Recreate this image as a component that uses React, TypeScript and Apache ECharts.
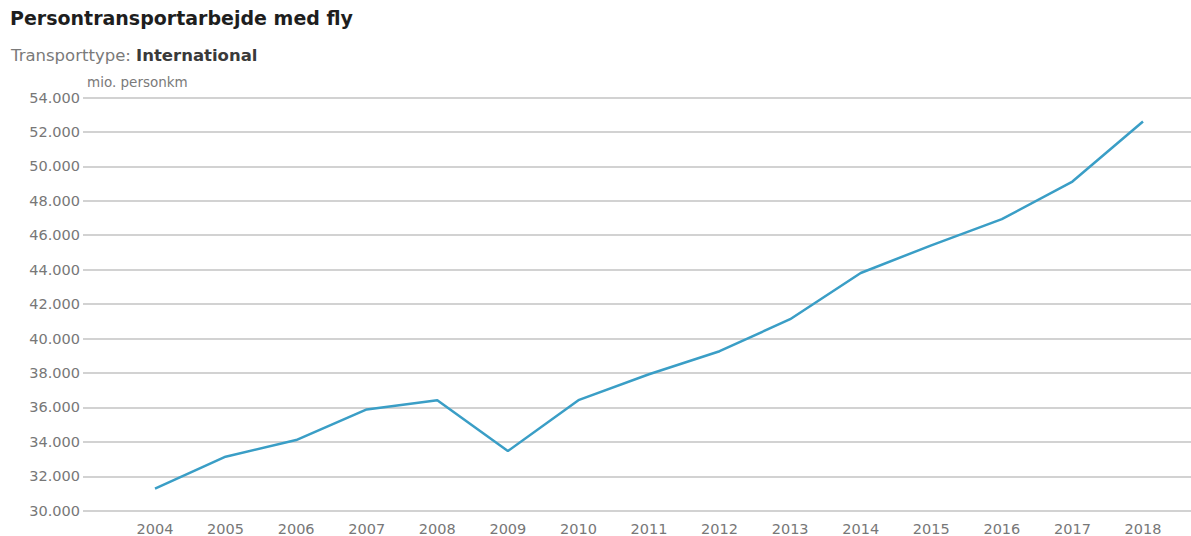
import React, { useEffect, useRef } from "react";
import * as echarts from "echarts";

const years = ["2004","2005","2006","2007","2008","2009","2010","2011","2012","2013","2014","2015","2016","2017","2018"];
const passengerKm = [31250, 33100, 34070, 35850, 36390, 33430, 36390, 37900, 39240, 41100, 43790, 45400, 46920, 49110, 52600];
const titleText = "Persontransportarbejde med fly";
const subtitleLabel = "Transporttype: ";
const subtitleValue = "International";
const unitText = "mio. personkm";

const FONT = "'DejaVu Sans', Verdana, sans-serif";

function fmt(v: number): string {
  return String(Math.round(v)).replace(/\B(?=(\d{3})+(?!\d))/g, ".");
}

export default function App() {
  const ref = useRef<HTMLDivElement>(null);
  useEffect(() => {
    if (!ref.current) return;
    const chart = echarts.init(ref.current, null, { renderer: "svg" });
    chart.setOption({
      animation: false,
      backgroundColor: "#ffffff",
      textStyle: { fontFamily: FONT },
      graphic: [
        {
          type: "text",
          left: 10,
          top: 8,
          style: { text: titleText, font: `bold 19px ${FONT}`, fill: "#1e1e1e" },
        },
        {
          type: "text",
          left: 11,
          top: 47,
          style: {
            text: `{a|${subtitleLabel}}{b|${subtitleValue}}`,
            rich: {
              a: { fontFamily: FONT, fontSize: 16.5, fill: "#7a7a7a", color: "#7a7a7a" },
              b: { fontFamily: FONT, fontSize: 16.5, fontWeight: "bold", fill: "#3a3a3a", color: "#3a3a3a" },
            },
          },
        },
        {
          type: "text",
          left: 87,
          top: 75,
          style: { text: unitText, font: `13.5px ${FONT}`, fill: "#7a7a7a" },
        },
      ],
      grid: [
        { left: 83, right: 0, top: 97.5, bottom: 25.3, containLabel: false },
        { left: 155, right: 48, top: 97.5, bottom: 25.3, containLabel: false },
      ],
      xAxis: [
        { type: "value", gridIndex: 0, show: false, min: 0, max: 1 },
        {
          type: "category",
          gridIndex: 1,
          data: years,
          boundaryGap: false,
          axisLine: { show: false },
          axisTick: { show: false },
          splitLine: { show: false },
          axisLabel: { color: "#777777", fontSize: 14.5, fontFamily: FONT, margin: 11 },
        },
      ],
      yAxis: [
        {
          type: "value",
          gridIndex: 0,
          min: 30000,
          max: 54000,
          interval: 2000,
          axisLine: { show: false },
          axisTick: { show: false },
          axisLabel: {
            color: "#777777",
            fontSize: 14.5,
            fontFamily: FONT,
            margin: 3,
            formatter: (v: number) => fmt(v),
          },
          splitLine: { show: true, lineStyle: { color: "#d2d2d2", width: 2 } },
        },
        {
          type: "value",
          gridIndex: 1,
          min: 30000,
          max: 54000,
          interval: 2000,
          show: false,
          splitLine: { show: false },
        },
      ],
      series: [
        {
          type: "line",
          xAxisIndex: 1,
          yAxisIndex: 1,
          data: passengerKm,
          showSymbol: false,
          symbol: "none",
          lineStyle: { color: "#3a9ec6", width: 2.5 },
          itemStyle: { color: "#3a9ec6" },
        },
      ],
    });
    return () => chart.dispose();
  }, []);
  return <div ref={ref} style={{ position: "fixed", left: 0, top: 0, width: 1191, height: 536 }} />;
}
